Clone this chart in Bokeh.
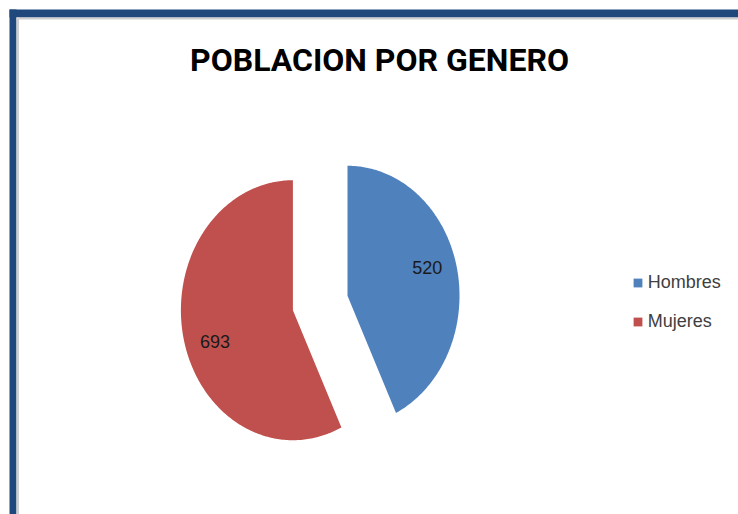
import numpy as np
from bokeh.plotting import figure
from bokeh.models import ColumnDataSource, Legend, LegendItem
from bokeh.core.properties import value
from bokeh.embed import file_html
from bokeh.resources import INLINE

# ---- data ----
title = "POBLACION POR GENERO"
categories = ["Hombres", "Mujeres"]
counts = [520, 693]
colors = ["#4F81BD", "#C0504D"]

# ---- layout / style ----
W, H = 738, 514
CX, CY = 319.7, 302.5     # pie centre on the canvas (px)
SX, SY = 112.0, 130.0     # px per radius unit (pie is stretched vertically)
explode = 0.25            # fraction of radius
label_r = 0.74            # label distance from slice apex, fraction of radius
label_dx = [-1, 3]        # small label nudges (px)
label_dy = [-7, 10]


def X(px):
    return (px - CX) / SX


def Y(py):
    return (CY - py) / SY


p = figure(width=W, height=H, output_backend="svg", toolbar_location=None,
           x_range=(X(0), X(W)), y_range=(Y(H), Y(0)),
           x_axis_location=None, y_axis_location=None,
           min_border=0, min_border_left=0, min_border_right=0,
           min_border_top=0, min_border_bottom=0,
           border_fill_color="white", background_fill_color="white",
           outline_line_color=None)
p.grid.visible = False

# frame decoration (dark blue border on top and left, with a faint shadow)
p.quad(left=[X(9), X(9)], right=[X(W), X(16)], top=[Y(9), Y(9)], bottom=[Y(17), Y(H)],
       fill_color="#1F497D", line_color=None)
p.quad(left=[X(16), X(16)], right=[X(W), X(18.5)], top=[Y(17), Y(17)], bottom=[Y(19), Y(H)],
       fill_color="#cfcfcf", line_color=None)

total = float(sum(counts))
xs, ys, lx, ly = [], [], [], []
cum = 0.0
for v in counts:
    a0 = np.pi / 2 - 2 * np.pi * cum / total
    cum += v
    a1 = np.pi / 2 - 2 * np.pi * cum / total
    mid = (a0 + a1) / 2
    ox, oy = explode * np.cos(mid), explode * np.sin(mid)
    t = np.linspace(a0, a1, 240)
    xs.append(list(np.concatenate([[ox], ox + np.cos(t)])))
    ys.append(list(np.concatenate([[oy], oy + np.sin(t)])))
    lx.append(ox + label_r * np.cos(mid))
    ly.append(oy + label_r * np.sin(mid))

src = ColumnDataSource(dict(xs=xs, ys=ys, color=colors, cat=categories))
r = p.patches("xs", "ys", source=src, fill_color="color", line_color=None)

lsrc = ColumnDataSource(dict(x=lx, y=ly, text=[str(v) for v in counts],
                             dx=label_dx, dy=label_dy))
p.text(x="x", y="y", text="text", x_offset="dx", y_offset="dy", source=lsrc,
       text_align="center", text_baseline="middle", text_font=value("Liberation Sans"),
       text_font_size="18px", text_color="#1a1a1a")

p.text(x=[X(379)], y=[Y(59.5)], text=[title], text_align="center",
       text_baseline="alphabetic", text_font=value("Roboto"),
       text_font_style="bold", text_font_size="32px", text_color="#000000")

legend = Legend(items=[LegendItem(label=c, renderers=[r], index=i) for i, c in enumerate(categories)],
                location=(631.7, 182.5), orientation="vertical",
                glyph_width=11, glyph_height=11, label_height=20, spacing=18,
                padding=0, margin=0, border_line_color=None, background_fill_alpha=0,
                label_standoff=5, label_text_font="Liberation Sans",
                label_text_font_size="18px", label_text_color="#404040")
p.add_layout(legend)

open("out.html", "w").write(file_html(p, INLINE))
